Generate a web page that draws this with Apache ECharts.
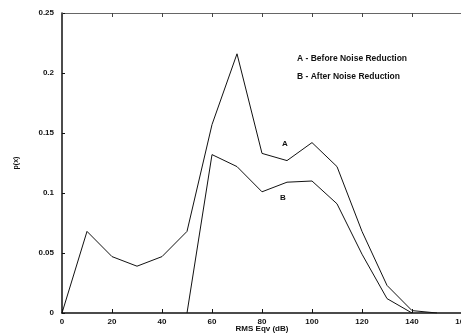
<!DOCTYPE html>
<html>
<head>
<meta charset="utf-8">
<script src="https://cdn.jsdelivr.net/npm/echarts@6/dist/echarts.min.js"></script>
<style>
  html, body { margin: 0; padding: 0; background: #fff; }
  #chart { width: 461px; height: 336px; }
</style>
</head>
<body>
<div id="chart"></div>
<script>
const xBefore = [0, 10, 20, 30, 40, 50, 60, 70, 80, 90, 100, 110, 120, 130, 140, 150];
const before = [0, 0.068, 0.047, 0.039, 0.047, 0.068, 0.157, 0.216, 0.133, 0.127, 0.142, 0.122, 0.068, 0.023, 0.002, 0];
const xAfter = [50, 60, 70, 80, 90, 100, 110, 120, 130, 140];
const after = [0, 0.132, 0.122, 0.101, 0.109, 0.110, 0.091, 0.049, 0.012, 0];
const legendLines = ["A - Before Noise Reduction", "B - After Noise Reduction"];

const ink = "#111";
const font = "Liberation Sans, Arial, sans-serif";

const chart = echarts.init(document.getElementById("chart"));

const pairs = (xs, ys) => xs.map((x, i) => [x, ys[i]]);

chart.setOption({
  animation: false,
  grid: { left: 62, right: -1, top: 13, bottom: 23, outerBoundsMode: "none", containLabel: false },
  xAxis: [
    {
      type: "value",
      min: 0,
      max: 160,
      interval: 20,
      name: "RMS Eqv (dB)",
      nameLocation: "middle",
      nameGap: 12,
      nameMoveOverlap: false,
      nameTextStyle: { color: ink, fontFamily: font, fontSize: 8, fontWeight: "bold" },
      axisLine: { lineStyle: { color: ink, width: 1.5 } },
      axisTick: { inside: true, length: 4, lineStyle: { color: ink } },
      axisLabel: { color: ink, fontFamily: font, fontSize: 8, fontWeight: "bold", margin: 5, hideOverlap: false },
      splitLine: { show: false },
    },
    {
      type: "value",
      position: "top",
      min: 0,
      max: 160,
      interval: 20,
      axisLine: { show: true, lineStyle: { color: "#666", width: 1 } },
      axisTick: { inside: true, length: 4, lineStyle: { color: "#444" } },
      axisLabel: { show: false },
      splitLine: { show: false },
    },
  ],
  yAxis: [
    {
      type: "value",
      min: 0,
      max: 0.25,
      interval: 0.05,
      name: "p(x)",
      nameLocation: "middle",
      nameGap: 42,
      nameMoveOverlap: false,
      nameTextStyle: { color: ink, fontFamily: font, fontSize: 7, fontWeight: "bold" },
      axisLine: { show: true, lineStyle: { color: ink, width: 1.5 } },
      axisTick: { inside: true, length: 3, lineStyle: { color: ink } },
      axisLabel: {
        color: ink,
        fontFamily: font,
        fontSize: 8,
        fontWeight: "bold",
        margin: 8,
        formatter: (v) => String(Math.round(v * 100) / 100),
      },
      splitLine: { show: false },
    },
  ],
  series: [
    {
      name: "A",
      type: "line",
      data: pairs(xBefore, before),
      symbol: "none",
      lineStyle: { color: ink, width: 1 },
    },
    {
      name: "B",
      type: "line",
      data: pairs(xAfter, after),
      symbol: "none",
      lineStyle: { color: ink, width: 1 },
    },
  ],
  graphic: [
    { type: "text", left: 297, top: 54, style: { text: legendLines[0], fill: ink, font: "bold 8.5px " + font } },
    { type: "text", left: 297, top: 72, style: { text: legendLines[1], fill: ink, font: "bold 8.5px " + font } },
    { type: "text", left: 282, top: 140, style: { text: "A", fill: ink, font: "bold 8px " + font } },
    { type: "text", left: 280, top: 194, style: { text: "B", fill: ink, font: "bold 8px " + font } },
  ],
});
</script>
</body>
</html>
